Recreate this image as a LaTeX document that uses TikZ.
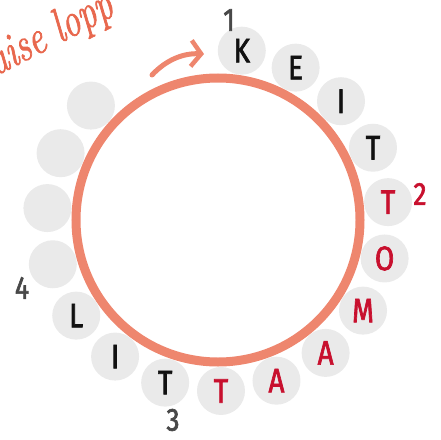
\documentclass[tikz,border=0pt]{standalone}
\usepackage{fontspec}
\newfontfamily\beadfont[FakeBold=2,FakeStretch=0.82]{Fira Sans}
\newfontfamily\mottofont[FakeBold=1.5,FakeStretch=0.75]{Latin Modern Roman}
\usetikzlibrary{arrows.meta}
\definecolor{Salmon}{HTML}{EE866E}
\definecolor{Script}{HTML}{E8684E}
\definecolor{Bead}{HTML}{EAEAEA}
\definecolor{Crimson}{HTML}{C8102E}
\definecolor{Ink}{HTML}{111111}
\definecolor{Muted}{HTML}{484848}
\tikzset{
  >={Straight Barb[length=10pt,width=26pt,line width=4.5pt]},
  ring/.style={draw=Salmon,line width=9pt},
  bead/.style={circle,fill=Bead,minimum size=48pt,inner sep=0pt,font=\beadfont\fontsize{34}{34}\selectfont,text=Ink},
  hit/.style={bead,text=Crimson},
  num/.style={font=\beadfont\fontsize{32}{32}\selectfont,text=Muted,inner sep=0pt},
  loop/.style={->,draw=Salmon,line width=5pt,line cap=round},
  script/.style={font=\mottofont\itshape\fontsize{48}{48}\selectfont,text=Script,rotate=27,inner sep=0pt}
}
\begin{document}
\begin{tikzpicture}[x=1pt,y=1pt]
  \useasboundingbox (-218,-219) rectangle (223,220);
  % beads round the ring
  \foreach \ch/\st [count=\i from 0] in {K/bead,E/bead,I/bead,T/bead,T/hit,O/hit,M/hit,A/hit,A/hit,T/hit,T/bead,I/bead,L/bead,/bead,/bead,/bead,/bead}
    \node[\st] (b\i) at ({82-19*\i}:171) {\ch};
  \draw[ring] (0,0) circle (142);

  \node[num] (n1) at (11,200) {1};
  \node[num,text=Crimson] (n2) at (202,26) {2};
  \node[num] (n3) at (-45,-200) {3};
  \node[num] (n4) at (-196,-68) {4};

  \coordinate (tail) at (-66,145);
  \coordinate (tip) at (-14,166);
  \draw[loop] (tail) .. controls (-52,160) and (-35,167) .. (tip);

  \node[script,anchor=base west] (motto) at (-222,144) {aise lopp};
\end{tikzpicture}
\end{document}
